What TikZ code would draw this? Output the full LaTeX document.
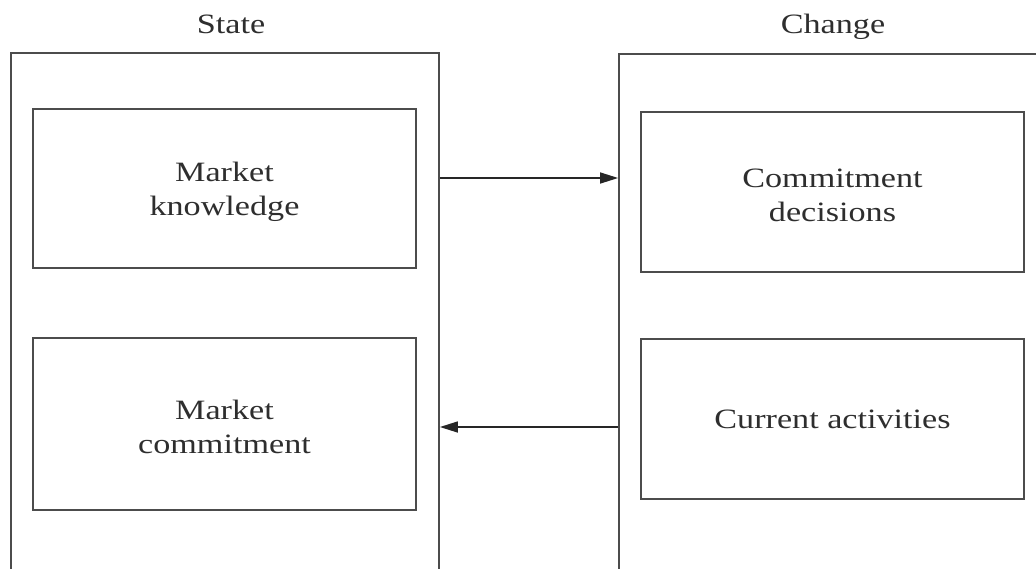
\documentclass[tikz,border=0pt]{standalone}
\usepackage{fontspec}
\setmainfont[FakeStretch=1.22]{Liberation Serif}
\usetikzlibrary{arrows.meta}
\definecolor{ink}{gray}{0.3}
\definecolor{txt}{gray}{0.18}
\tikzset{
  outerbox/.style={draw=ink, line width=1.8pt, inner sep=0pt},
  innerbox/.style={draw=ink, line width=1.8pt, inner sep=0pt},
  lbl/.style={align=center, text=txt, font=\fontsize{28}{34}\selectfont, inner sep=0pt},
  title/.style={text=txt, font=\fontsize{28}{34}\selectfont, inner sep=0pt, anchor=base},
  arr/.style={draw=black!85, line width=1.5pt, -{Triangle[length=18pt,width=11pt]}}
}
\begin{document}
\begin{tikzpicture}[x=1pt,y=-1pt]
\useasboundingbox (0,0) rectangle (1036,568);
\fill[white] (0,0) rectangle (1036,568);
\clip (0,0) rectangle (1036,568);
% outer boxes (extend beyond the picture edge)
\node[outerbox, minimum width=428pt, minimum height=547pt] (oL) at (225,326.5) {};
\node[outerbox, minimum width=441pt, minimum height=546pt] (oR) at (839.5,327) {};
% titles
\node[title] (tS) at (231,33) {State};
\node[title] (tC) at (833,33) {Change};
% inner boxes
\node[innerbox, minimum width=383pt, minimum height=159pt] (kn) at (224.5,188.5) {};
\node[innerbox, minimum width=383pt, minimum height=172pt] (mc) at (224.5,424) {};
\node[innerbox, minimum width=383pt, minimum height=160pt] (cd) at (832.5,192) {};
\node[innerbox, minimum width=383pt, minimum height=160pt] (ca) at (832.5,419) {};
% labels
\node[lbl] (knt) at ([yshift=-3pt]kn.center) {Market\\knowledge};
\node[lbl] (mct) at ([yshift=-3pt]mc.center) {Market\\commitment};
\node[lbl] (cdt) at ([yshift=-3pt]cd.center) {Commitment\\decisions};
\node[lbl] (cat) at (ca.center) {Current activities};
% connectors
\draw[arr] (oL.east |- {(0,178)}) -- (oR.west |- {(0,178)});
\draw[arr] (oR.west |- {(0,427)}) -- (oL.east |- {(0,427)});
\end{tikzpicture}
\end{document}
